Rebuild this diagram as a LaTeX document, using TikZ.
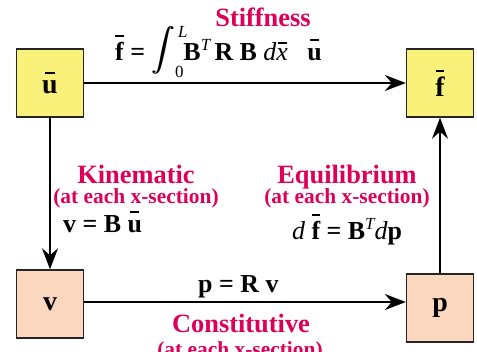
\documentclass[tikz,border=0pt]{standalone}
\usepackage{fontspec}
\setmainfont{Liberation Serif}
\usetikzlibrary{arrows.meta}
\definecolor{boxyellow}{RGB}{250,241,122}
\definecolor{boxsalmon}{RGB}{250,215,190}
\definecolor{crim}{RGB}{222,0,88}
% bar over a character: #1 raise, #2 width factor, #3 character
\newcommand\barred[3]{\leavevmode\setbox0\hbox{#3}\rlap{\hbox to\wd0{\hss\raisebox{#1}{\rule{#2\wd0}{0.08em}}\hss}}\box0\relax}
\newcommand\supT{\raisebox{0.36em}{\fontsize{17}{17}\selectfont\mdseries\itshape T}}
\newcommand\bigint{\raisebox{-4bp}{\scalebox{2.3}[2.15]{\rlap{$\displaystyle\int$}\kern0.25pt$\displaystyle\int$}}}
\begin{document}
\begin{tikzpicture}[x=1bp,y=-1bp,
  box/.style={draw=black!85,line width=1.4bp,minimum width=67bp,minimum height=68bp,inner sep=0pt,
    font=\fontsize{28}{30}\selectfont\bfseries},
  ybox/.style={box,fill=boxyellow},
  sbox/.style={box,fill=boxsalmon},
  arr/.style={draw=black,line width=1.5bp,-{Stealth[length=21bp,width=16bp,inset=7bp]}},
  title/.style={text=crim,font=\fontsize{26.5}{28}\selectfont\bfseries,anchor=base,inner sep=0pt},
  sub/.style={text=crim,font=\fontsize{21.5}{23}\selectfont\bfseries,anchor=base,inner sep=0pt},
  eqn/.style={text=black,font=\fontsize{26}{28}\selectfont\bfseries,anchor=base west,inner sep=0pt}]
\useasboundingbox (0,0) rectangle (477,351);
\clip (0,0) rectangle (477,351);
% boxes
\node[ybox] (u) at (50,83) {\barred{0.72em}{0.6}{u}};
\node[ybox] (f) at (440,83) {\barred{0.88em}{0.95}{f}};
\node[sbox] (v) at (50,304) {v};
\node[sbox] (p) at (440,308) {p};
% connectors
\draw[arr] (u) -- (f);
\draw[arr] (u) -- (v);
\draw[arr] ([yshift=2bp]v.east) -- ([yshift=2bp]v.east -| p.west);
\draw[arr] (p) -- (f);
% labels
\node[title] (st) at (263,26) {Stiffness};
\node[eqn] (se) at (115,60) {\barred{0.88em}{0.95}{f} =\ \bigint\rlap{\kern0.12em\raisebox{23bp}{\fontsize{17}{17}\selectfont\mdseries\itshape L}}\raisebox{-17bp}{\fontsize{17}{17}\selectfont\mdseries 0}B\supT\,R\ B\ \mdseries\itshape d\barred{0.62em}{0.8}{x}\ \ \ \upshape\bfseries\barred{0.72em}{0.6}{u}};
\node[title] (ki) at (136,183) {Kinematic};
\node[sub] (kis) at (136,203) {(at each x-section)};
\node[eqn] (ke) at (63,232) {v = B \barred{0.72em}{0.6}{u}};
\node[title] (eq) at (347,183) {Equilibrium};
\node[sub] (eqs) at (347,203) {(at each x-section)};
\node[eqn] (ee) at (292,239) {{\mdseries\itshape d} \barred{0.88em}{0.95}{f} = B\supT{\mdseries\itshape d}p};
\node[eqn] (ce) at (198,292) {p = R v};
\node[title] (co) at (241,332) {Constitutive};
\node[sub] (cos) at (240,356) {(at each x-section)};
\end{tikzpicture}
\end{document}
